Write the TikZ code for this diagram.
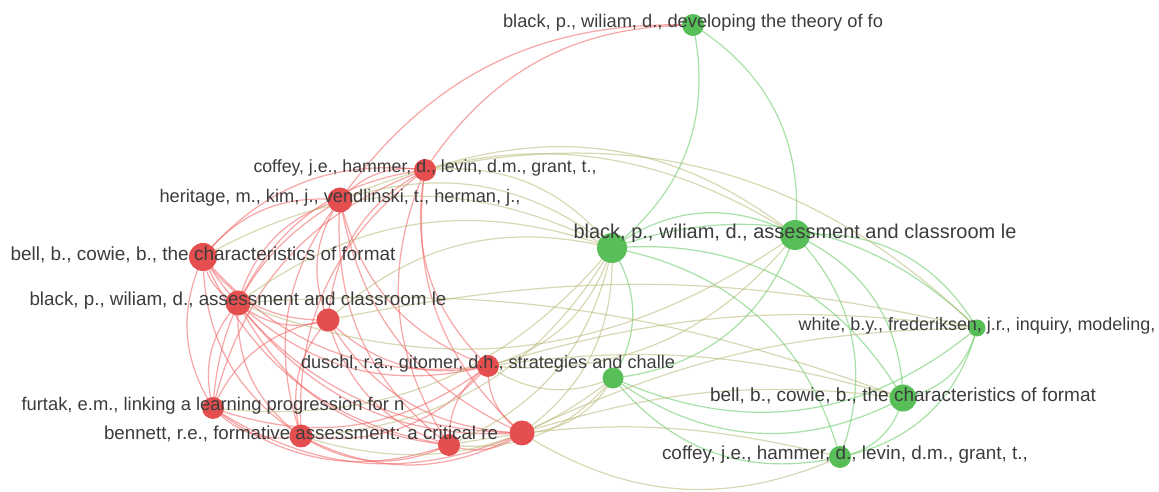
\documentclass[tikz,border=0pt]{standalone}
\usepackage{fontspec}
\setmainfont{Liberation Sans}
\usepackage{graphicx}
\usetikzlibrary{calc,backgrounds}
\definecolor{ngreen}{RGB}{88,190,88}
\definecolor{nred}{RGB}{228,78,78}
\definecolor{egreen}{RGB}{110,205,110}
\definecolor{ered}{RGB}{240,95,95}
\definecolor{emix}{RGB}{178,178,108}
\definecolor{ltext}{RGB}{60,60,60}
\tikzset{
  gnode/.style={circle, fill=ngreen, inner sep=0pt, minimum size=#1},
  rnode/.style={circle, fill=nred, inner sep=0pt, minimum size=#1},
  lbl/.style={text=ltext, inner sep=0pt, yshift=0.04cm},
  redge/.style={draw=ered, line width=0.7pt, opacity=0.55},
  gedge/.style={draw=egreen, line width=0.7pt, opacity=0.6},
  medge/.style={draw=emix, line width=0.7pt, opacity=0.5},
}
% label text squeezed to the width it has in the map
\newcommand{\fitlbl}[2]{\resizebox{#1}{!}{#2}}
% curved link, bowing away from the hub
\newcommand{\vlink}[4][28]{\draw[#2] let \p1=(#3), \p2=(#4), \p3=(hub),
  \n1={((\x1-\x3)/100)*((\y2-\y3)/100)-((\y1-\y3)/100)*((\x2-\x3)/100)},
  \n2={\n1<0 ? #1 : -#1} in (#3.center) to[bend left=\n2] (#4.center);}
\begin{document}
\begin{tikzpicture}[x=0.02cm,y=-0.02cm]
\useasboundingbox (0,0) rectangle (1159,492);
\coordinate (hub) at (580,260);
% green cluster
\node[gnode=0.44cm] (g1) at (693,25) {};
\node[gnode=0.60cm] (g2) at (612,248) {};
\node[gnode=0.60cm] (g3) at (795,235) {};
\node[gnode=0.34cm] (g4) at (977,328) {};
\node[gnode=0.54cm] (g5) at (903,398) {};
\node[gnode=0.44cm] (g6) at (840,457) {};
\node[gnode=0.42cm] (g7) at (613,378) {};
% red cluster
\node[rnode=0.44cm] (r1) at (425,170) {};
\node[rnode=0.50cm] (r2) at (340,200) {};
\node[rnode=0.56cm] (r3) at (203,257) {};
\node[rnode=0.50cm] (r4) at (238,303) {};
\node[rnode=0.46cm] (r5) at (328,320) {};
\node[rnode=0.44cm] (r6) at (488,366) {};
\node[rnode=0.44cm] (r7) at (213,408) {};
\node[rnode=0.46cm] (r8) at (301,436) {};
\node[rnode=0.44cm] (r9) at (449,445) {};
\node[rnode=0.50cm] (r10) at (522,433) {};
% links
\begin{scope}[on background layer]
\foreach \a/\b in {r1/r2,r1/r3,r1/r4,r1/r5,r1/r6,r1/r7,r1/r8,r1/r9,r1/r10,
  r2/r3,r2/r4,r2/r5,r2/r6,r2/r7,r2/r8,r2/r9,r2/r10,
  r3/r4,r3/r5,r3/r6,r3/r7,r3/r8,r3/r9,r3/r10,
  r4/r5,r4/r6,r4/r7,r4/r8,r4/r9,r4/r10,
  r5/r6,r5/r7,r5/r8,r5/r9,r5/r10,
  r6/r7,r6/r8,r6/r9,r6/r10,r7/r8,r7/r9,r7/r10,r8/r9,r8/r10,r9/r10,
  g1/r1,g1/r2}
  \vlink{redge}{\a}{\b};
\foreach \a/\b in {g1/g2,g1/g3,g2/g3,g2/g4,g2/g5,g2/g6,g2/g7,g3/g4,g3/g5,
  g3/g6,g3/g7,g4/g5,g4/g6,g4/g7,g5/g6,g5/g7,g6/g7}
  \vlink[32]{gedge}{\a}{\b};
\foreach \a/\b in {g2/r1,g2/r2,g2/r3,g2/r4,g2/r5,g2/r6,g2/r7,g2/r8,g2/r9,g2/r10,
  g3/r1,g3/r2,g3/r4,g3/r6,g4/r1,g6/r10,g7/r6,g7/r8,g7/r9,g7/r10}
  \vlink{medge}{\a}{\b};
% flatter links running across to the right
\foreach \a/\b in {r5/g4,r6/g4,r10/g4,r4/g5,r6/g5,r10/g5,r9/g6}
  \draw[medge] (\a.center) to[bend left=12] (\b.center);
\end{scope}
% labels on top
\node[lbl] (g1t) at (g1) {\fitlbl{7.60cm}{black, p., wiliam, d., developing the theory of fo}};
\node[lbl] (g3t) at (g3) {\fitlbl{8.86cm}{black, p., wiliam, d., assessment and classroom le}};
\node[lbl] (g4t) at (g4) {\fitlbl{7.14cm}{white, b.y., frederiksen, j.r., inquiry, modeling,}};
\node[lbl] (g5t) at (g5) {\fitlbl{7.72cm}{bell, b., cowie, b., the characteristics of format}};
\node[lbl] (g6t) at ([xshift=0.1cm]g6) {\fitlbl{7.32cm}{coffey, j.e., hammer, d., levin, d.m., grant, t.,}};
\node[lbl] (r1t) at (r1) {\fitlbl{6.86cm}{coffey, j.e., hammer, d., levin, d.m., grant, t.,}};
\node[lbl] (r2t) at (r2) {\fitlbl{7.22cm}{heritage, m., kim, j., vendlinski, t., herman, j.,}};
\node[lbl] (r3t) at (r3) {\fitlbl{7.70cm}{bell, b., cowie, b., the characteristics of format}};
\node[lbl] (r4t) at (r4) {\fitlbl{8.34cm}{black, p., wiliam, d., assessment and classroom le}};
\node[lbl] (r6t) at (r6) {\fitlbl{7.48cm}{duschl, r.a., gitomer, d.h., strategies and challe}};
\node[lbl] (r7t) at (r7) {\fitlbl{7.66cm}{furtak, e.m., linking a learning progression for n}};
\node[lbl] (r8t) at (r8) {\fitlbl{7.88cm}{bennett, r.e., formative assessment: a critical re}};
\end{tikzpicture}
\end{document}
